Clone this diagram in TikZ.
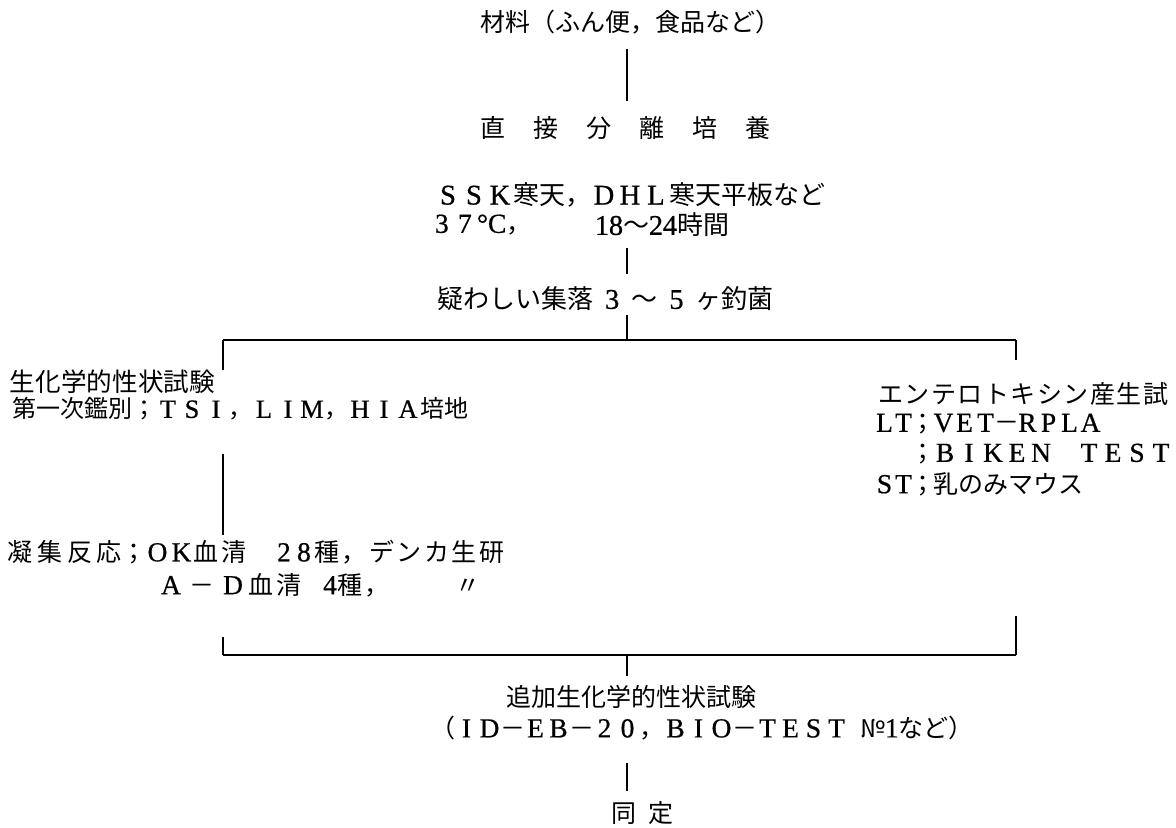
\documentclass[tikz,border=0pt]{standalone}
\usepackage{fontspec}
\usetikzlibrary{calc}
\newfontfamily\jp{Noto Sans CJK JP}
\newfontfamily\lat[Scale=1.1,FakeBold=0.6]{Liberation Serif}
\newcommand\ls[1]{\addfontfeature{LetterSpace=#1}}
\newlength\fwu
\makeatletter
\def\fws#1{\fw@loop#1\relax}
\def\fw@loop#1{\ifx\relax#1\else\makebox[\fwu]{\lat #1}\expandafter\fw@loop\fi}
\makeatother
\newcommand\dsh{\makebox[\fwu]{\jp －}}
\tikzset{
  txt/.style={anchor=west, inner sep=0pt, outer sep=0pt, font=\jp\fontsize{12.5pt}{16pt}\selectfont},
  fs/.style={font=\jp\fontsize{#1}{16pt}\selectfont},
  conn/.style={line width=1pt, line cap=butt, black}
}
\begin{document}
\begin{tikzpicture}[x=0.5pt,y=-0.5pt]
\path[fill=white] (0,0) rectangle (1176,827);
\coordinate (ax) at (627,0);
\coordinate (lx) at (223,0);
\coordinate (rx) at (1016,0);
\coordinate (tl) at (223,340);
\coordinate (tc) at (627,340);
\coordinate (tr) at (1016,340);
\coordinate (bl) at (223,655);
\coordinate (bc) at (627,655);
\coordinate (br) at (1016,655);

\node[txt] (m1) at (480,22) {材料（ふん便，食品など）};
\node[txt] (m2) at (480,128) {直\hspace{14pt}接\hspace{14pt}分\hspace{14pt}離\hspace{14pt}培\hspace{14pt}養};
\node[txt, fs=13pt] (m3) at (435,195) {\setlength\fwu{13pt}\fws{SSK}寒天，\fws{DHL}寒天平板など};
\node[txt] (m4a) at (435,225) {\makebox[11.5pt][l]{\lat 3}\makebox[9.5pt][l]{\lat 7}{\lat °C}，};
\node[txt, fs=13pt] (m4b) at (595,225) {\setlength\fwu{7pt}\fws{18}～\fws{24}時間};
\node[txt, fs=13pt] (m6) at (437,299) {疑わしい集落\hspace{6pt}{\lat 3}\hspace{6pt}～\hspace{6pt}{\lat 5}\hspace{6pt}ヶ釣菌};

\node[txt, fs=12.8pt] (m7) at (10,382) {生化学的性状試験};
\node[txt, fs=12pt] (m8) at (12,409) {\setlength\fwu{12pt}第一次鑑別；\fws{TSI}，\fws{LIM}，\fws{HIA}培地};

\node[txt] (r1) at (878,394) {\ls{6}エンテロトキシン産生試};
\node[txt] (r2) at (875,424) {\setlength\fwu{9.5pt}\fws{LT}\makebox[10pt]{；}\setlength\fwu{10.5pt}\fws{VET}\dsh\fws{RPLA}};
\node[txt] (r3) at (875,454) {\hspace{19pt}\makebox[10pt]{；}\setlength\fwu{12pt}\fws{BIKEN}\hspace{12pt}\fws{TEST}};
\node[txt] (r4) at (875,484) {\setlength\fwu{9.5pt}\fws{ST}\makebox[10pt]{；}乳のみマウス};

\node[txt] (m10) at (8,552) {{\ls{18}凝集反応}\makebox[12pt]{；}\setlength\fwu{12pt}\fws{OK}{\ls{10}血清}\hspace{14pt}\setlength\fwu{10pt}\fws{28}{\ls{10}種，デンカ生研}};
\node[txt] (m11) at (155.5,585) {\setlength\fwu{15.5pt}\fws{A}\dsh\fws{D}{\ls{10}血清}\hspace{11pt}\setlength\fwu{7pt}\fws{4}{\ls{10}種，}\hspace{33pt}〃};

\node[txt] (m12) at (506,697) {追加生化学的性状試験};
\node[txt] (m13) at (430,728) {（\setlength\fwu{11.5pt}\fws{ID}\dsh\fws{EB}\dsh\fws{20}，\fws{BIO}\dsh\fws{TEST}\hspace{6pt}№{\lat 1}など）};
\node[txt] (m14) at (611,813) {同\hspace{6pt}定};

\draw[conn] ($(m1.south -| ax)+(0,15)$) -- ($(m2.north -| ax)+(0,-15)$);
\draw[conn] ($(m4b.south -| ax)+(0,11)$) -- ($(m6.north -| ax)+(0,-13)$);
\draw[conn] ($(m6.south -| ax)+(0,4)$) -- (tc);
\draw[conn] (tl) -- (tr);
\draw[conn] (tl) -- (m7.north -| lx);
\draw[conn] (tr) -- ($(r1.north -| rx)+(0,-22)$);
\draw[conn] ($(m8.south -| lx)+(0,34)$) -- ($(m10.north -| lx)+(0,-5)$);
\draw[conn] ($(m11.south -| lx)+(0,40)$) -- (bl);
\draw[conn] ($(r4.south -| rx)+(0,120)$) -- (br);
\draw[conn] (bl) -- (br);
\draw[conn] (bc) -- ($(m12.north -| ax)+(0,-9)$);
\draw[conn] ($(m13.south -| ax)+(0,23)$) -- ($(m14.north -| ax)+(0,-10)$);
\end{tikzpicture}
\end{document}
